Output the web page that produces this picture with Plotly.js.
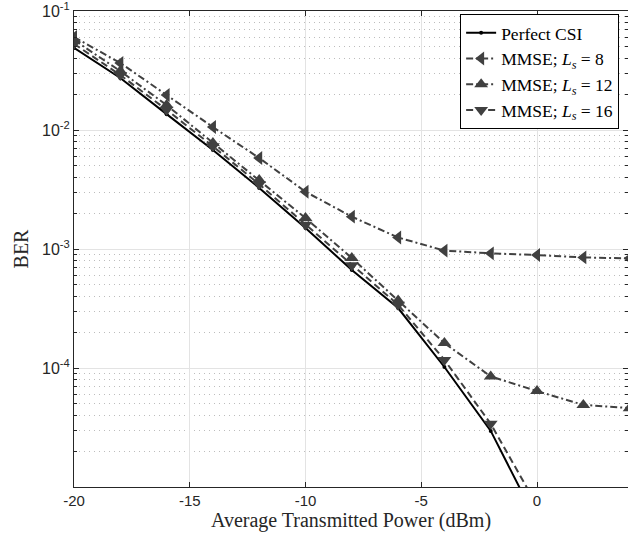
<!DOCTYPE html>
<html>
<head>
<meta charset="utf-8">
<script src="https://cdn.plot.ly/plotly-3.0.1.min.js"></script>
<style>html,body{margin:0;padding:0;background:#fff;}</style>
</head>
<body>
<div id="chart" style="width:628px;height:535px;"></div>
<script>
// Average transmitted power (dBm)
const xPerfect = [-20, -18, -16, -14, -12, -10, -8, -6, -4, -2, 0];
const berPerfect = [0.049, 0.0274, 0.0136, 0.0068, 0.00326, 0.0015, 0.000667, 0.000319, 0.000102, 0.0000296, 0.0000051];

const xLs8 = [-20, -18, -16, -14, -12, -10, -8, -6, -4, -2, 0, 2, 4];
const berLs8 = [0.0605, 0.0366, 0.0197, 0.0106, 0.00582, 0.00303, 0.00187, 0.00125, 0.00097, 0.00092, 0.00089, 0.00085, 0.000835];

const xLs12 = [-20, -18, -16, -14, -12, -10, -8, -6, -4, -2, 0, 2, 4];
const berLs12 = [0.057, 0.0313, 0.0162, 0.0078, 0.0038, 0.00182, 0.00084, 0.00037, 0.000162, 0.000085, 0.000064, 0.000049, 0.000046];

const xLs16 = [-20, -18, -16, -14, -12, -10, -8, -6, -4, -2, 0];
const berLs16 = [0.053, 0.029, 0.0148, 0.0073, 0.0035, 0.0016, 0.00073, 0.00034, 0.000117, 0.000034, 0.000007];

const xTicks = [-20, -15, -10, -5, 0];
const xTickLabels = ['-20', '-15', '-10', '-5', '0'];
const yTicks = [0.1, 0.01, 0.001, 0.0001];
const yTickLabels = ['10<sup>-1</sup>', '10<sup>-2</sup>', '10<sup>-3</sup>', '10<sup>-4</sup>'];
const names = ['Perfect CSI', 'MMSE; <i>L<sub>s</sub></i> = 8', 'MMSE; <i>L<sub>s</sub></i> = 12', 'MMSE; <i>L<sub>s</sub></i> = 16'];

const gray = '#404040';
const traces = [
  {x: xPerfect, y: berPerfect, name: names[0], mode: 'lines+markers',
   line: {color: '#000000', width: 2}, marker: {symbol: 'circle', size: 4, color: '#000000'}},
  {x: xLs8, y: berLs8, name: names[1], mode: 'lines+markers',
   line: {color: gray, width: 2, dash: '7px,3px,2px,3px'}, marker: {symbol: 'triangle-left', size: 12, color: gray}},
  {x: xLs12, y: berLs12, name: names[2], mode: 'lines+markers',
   line: {color: gray, width: 2, dash: '7px,3px,2px,3px'}, marker: {symbol: 'triangle-up', size: 12, color: gray}},
  {x: xLs16, y: berLs16, name: names[3], mode: 'lines+markers',
   line: {color: gray, width: 2, dash: '7px,4px'}, marker: {symbol: 'triangle-down', size: 12, color: gray}}
];

const layout = {
  width: 628, height: 535,
  margin: {l: 74, r: 0, t: 11, b: 48},
  paper_bgcolor: '#ffffff', plot_bgcolor: '#ffffff',
  showlegend: true,
  legend: {
    x: 0.984, y: 0.994, xanchor: 'right', yanchor: 'top',
    bgcolor: '#ffffff', bordercolor: '#000000', borderwidth: 1,
    font: {family: 'Liberation Serif, DejaVu Serif, serif', size: 17.5, color: '#000000'},
    tracegroupgap: 0
  },
  xaxis: {
    range: [-20, 3.93],
    tickvals: xTicks, ticktext: xTickLabels,
    ticks: 'inside', ticklen: 5, tickcolor: '#262626',
    showline: true, linecolor: '#262626', linewidth: 1, mirror: 'ticks',
    showgrid: true, gridcolor: '#e3e3e3', gridwidth: 1,
    zeroline: false,
    tickfont: {family: 'Liberation Sans, Arial, sans-serif', size: 15, color: '#262626'},
    title: {text: 'Average Transmitted Power (dBm)', standoff: 2,
            font: {family: 'Liberation Serif, DejaVu Serif, serif', size: 20, color: '#262626'}}
  },
  yaxis: {
    type: 'log', range: [-5, -0.9995],
    tickvals: yTicks, ticktext: yTickLabels,
    ticklabeloverflow: 'allow',
    ticks: 'inside', ticklen: 5, tickcolor: '#262626',
    showline: true, linecolor: '#262626', linewidth: 1, mirror: 'ticks',
    showgrid: true, gridcolor: '#e3e3e3', gridwidth: 1,
    zeroline: false,
    minor: {dtick: 'D1', showgrid: true, gridcolor: '#bdbdbd', griddash: '1px,4px', gridwidth: 1,
            ticks: 'inside', ticklen: 3, tickcolor: '#262626'},
    tickfont: {family: 'Liberation Sans, Arial, sans-serif', size: 16, color: '#262626'},
    title: {text: 'BER', standoff: 8,
            font: {family: 'Liberation Serif, DejaVu Serif, serif', size: 20, color: '#262626'}}
  }
};

Plotly.newPlot('chart', traces, layout, {displayModeBar: false, staticPlot: true});
</script>
</body>
</html>
